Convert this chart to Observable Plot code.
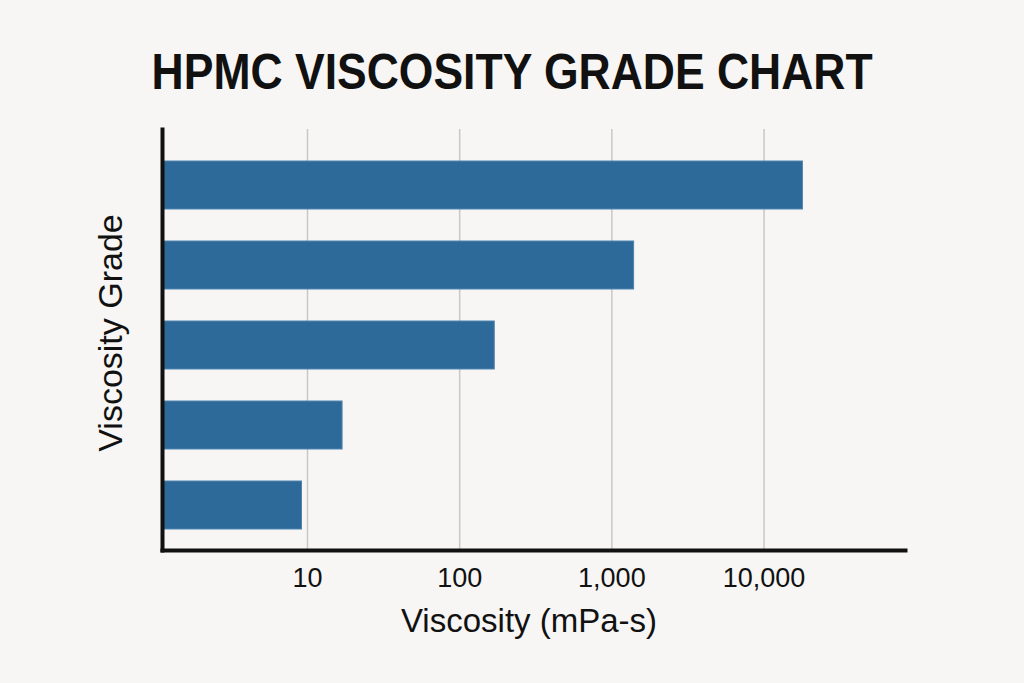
<!DOCTYPE html>
<html>
<head>
<meta charset="utf-8">
<script src="https://cdn.jsdelivr.net/npm/d3@7"></script>
<script src="https://cdn.jsdelivr.net/npm/@observablehq/plot@0.6"></script>
<style>
  html, body { margin: 0; padding: 0; background: #f7f6f4; }
  #wrap { position: relative; width: 1024px; height: 683px; overflow: hidden; }
  #title {
    position: absolute; left: 0; top: 47px; width: 1024px; text-align: center;
    font-family: "Liberation Sans", Arial, sans-serif; font-weight: 700;
    font-size: 50px; line-height: 50px; color: #111;
  }
  #title span { display: inline-block; transform: scaleX(0.89); transform-origin: center; }
  #chart { position: absolute; left: 0; top: 0; }
</style>
</head>
<body>
<div id="wrap">
  <div id="chart"></div>
  <div id="title"><span>HPMC VISCOSITY GRADE CHART</span></div>
</div>
<script>
// Data (top bar first)
const grades = ["Grade 5", "Grade 4", "Grade 3", "Grade 2", "Grade 1"];
const viscosity = [18000, 1400, 170, 17, 9.2];
const tickValues = [10, 100, 1000, 10000];
const xTitle = "Viscosity (mPa-s)";
const yTitle = "Viscosity Grade";

const xMin = 1.115, xMax = 85000;
const rows = grades.map((g, i) => ({grade: g, value: viscosity[i]}));

const chart = Plot.plot({
  width: 1024,
  height: 683,
  marginLeft: 162,
  marginRight: 119,
  marginTop: 129,
  marginBottom: 133,
  style: {background: "transparent", fontFamily: "'Liberation Sans', Arial, sans-serif", color: "#111"},
  x: {type: "log", domain: [xMin, xMax], axis: null},
  y: {domain: grades, axis: null, paddingInner: 0.406, paddingOuter: 0.31, align: 0.6},
  marks: [
    Plot.gridX(tickValues, {stroke: "#c8c8c8", strokeOpacity: 1, strokeWidth: 1.5}),
    Plot.barX(rows, {y: "grade", x1: xMin, x2: "value", fill: "#2e6a99", stroke: "#4f84ad", strokeWidth: 1}),
    Plot.axisX(tickValues, {tickSize: 0, tickPadding: 17, fontSize: 27, tickFormat: d3.format(","), label: null}),
    Plot.frame({anchor: "left", stroke: "#111", strokeWidth: 4}),
    Plot.frame({anchor: "bottom", stroke: "#111", strokeWidth: 4}),
    Plot.text([xTitle], {frameAnchor: "bottom", dx: -5, dy: 71, fontSize: 33, lineAnchor: "middle", fill: "#111"}),
    Plot.text([yTitle], {frameAnchor: "left", textAnchor: "middle", dx: -51, dy: -7, rotate: -90, fontSize: 34, lineAnchor: "middle", fill: "#111"})
  ]
});
document.getElementById("chart").appendChild(chart);
</script>
</body>
</html>
